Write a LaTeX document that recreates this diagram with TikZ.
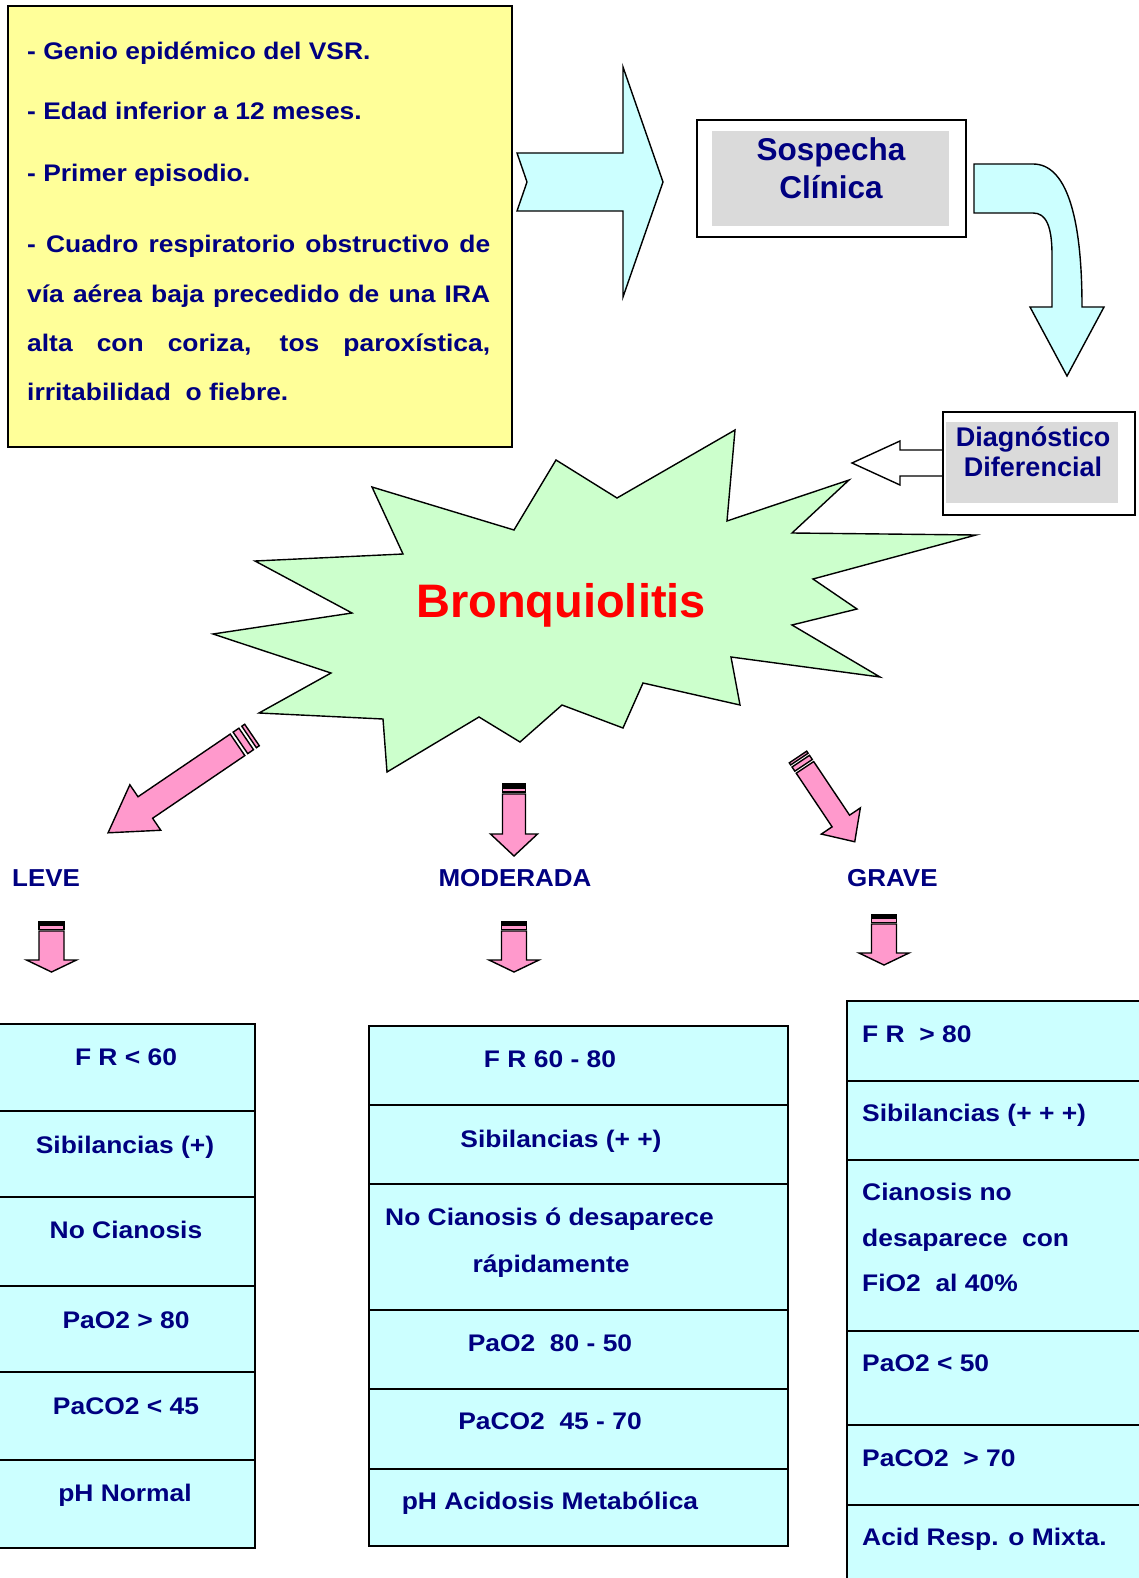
\documentclass[tikz,border=0pt]{standalone}
\usepackage{fontspec}
\setmainfont{Liberation Sans}
\newfontfamily\wideF{Liberation Sans}[FakeStretch=1.1]
\newfontfamily\midF{Liberation Sans}[FakeStretch=1.06]
\definecolor{cyanfill}{HTML}{CCFFFF}
\definecolor{yellowfill}{HTML}{FFFF99}
\definecolor{greenfill}{HTML}{CCFFCC}
\definecolor{pinkfill}{HTML}{FF99CC}
\definecolor{greyfill}{HTML}{DADADA}
\definecolor{navytext}{HTML}{000080}
\tikzset{
  tx/.style={inner sep=0pt, text=navytext, font=\wideF\bfseries\fontsize{24}{28}\selectfont},
  lbl/.style={inner sep=0pt, text=navytext, font=\midF\bfseries\fontsize{24.5}{28}\selectfont},
  hd/.style={inner sep=0pt, text=navytext, font=\bfseries\fontsize{31.5}{37}\selectfont},
  dg/.style={inner sep=0pt, text=navytext, font=\bfseries\fontsize{27}{31}\selectfont},
  boxline/.style={draw=black, line width=2pt, line join=miter},
  cellline/.style={draw=black, line width=2pt},
  outline/.style={draw=black, line width=1.4pt, line join=miter},
  pinkline/.style={draw=black, line width=1.4pt, fill=pinkfill, line join=miter},
  pics/parrow/.style n args={5}{code={
    \path[pinkline] (0,-#2) rectangle (#5,#2);
    \path[pinkline] (2*#5,-#2) rectangle (4*#5,#2);
    \path[pinkline] (5*#5,-#2) -- (#1-#4,-#2) -- (#1-#4,-#3) -- (#1,0) -- (#1-#4,#3) -- (#1-#4,#2) -- (5*#5,#2) -- cycle;
  }}
}
\begin{document}
\begin{tikzpicture}[x=1pt,y=-1pt]
\useasboundingbox (0,0) rectangle (1139,1578);
\fill[white] (0,0) rectangle (1139,1578);

% ---------- yellow box ----------
\path[boxline, fill=yellowfill] (8,6) rectangle (512,447);
\node[tx, anchor=base west] (y1) at (27,59.3) {- Genio epidémico del VSR.};
\node[tx, anchor=base west] (y2) at (27,120) {- Edad inferior a 12 meses.};
\node[tx, anchor=base west] (y3) at (27,181.7) {- Primer episodio.};
\node[tx, anchor=base west] (y4) at (27,253) {\makebox[463pt][s]{- Cuadro respiratorio obstructivo de}};
\node[tx, anchor=base west] (y5) at (27,302) {\makebox[463pt][s]{vía aérea baja precedido de una IRA}};
\node[tx, anchor=base west] (y6) at (27,351) {\makebox[463pt][s]{alta con coriza, tos paroxística,}};
\node[tx, anchor=base west] (y7) at (27,400) {irritabilidad\ \ o fiebre.};

% ---------- notched block arrow ----------
\path[outline, fill=cyanfill] (517,153) -- (623,153) -- (623,67) -- (663,182) -- (623,297) -- (623,211) -- (517,211) -- (527,182) -- cycle;

% ---------- Sospecha clinica ----------
\path[draw=black, line width=1.8pt, fill=white] (697,120) rectangle (966,237);
\fill[greyfill] (712,131) rectangle (949,226);
\node[hd, anchor=base] (s1) at (831,161) {Sospecha};
\node[hd, anchor=base] (s2) at (831,198.3) {Clínica};

% ---------- curved arrow ----------
\path[outline, fill=cyanfill] (974,164) -- (1033,164) .. controls (1066,164) and (1082,215) .. (1082,307)
  -- (1104,307) -- (1067,376) -- (1030,307) -- (1052,307) -- (1052,255)
  .. controls (1052,226) and (1046,213) .. (1033,213) -- (974,213) -- cycle;

% ---------- Diagnostico diferencial ----------
\path[outline, fill=white] (944,450) -- (900,450) -- (900,441) -- (852,463) -- (900,485) -- (900,476) -- (944,476) -- cycle;
\path[draw=black, line width=1.8pt, fill=white] (943,412) rectangle (1135,515);
\fill[greyfill] (946,422) rectangle (1118,503);
\node[dg, anchor=base] (d1) at (1033,446.7) {Diagnóstico};
\node[dg, anchor=base] (d2) at (1033,476.7) {Diferencial};

% ---------- star ----------
\path[outline, fill=greenfill] (372,487) -- (514,530) -- (556,460) -- (617,498) -- (735,430) -- (727,521)
  -- (849,480) -- (792,533) -- (976,535) -- (813,579) -- (857,609) -- (792,625) -- (880,677)
  -- (731,657) -- (740,705) -- (643,683) -- (623,728) -- (562,705) -- (520,742) -- (479,717)
  -- (387,772) -- (383,719) -- (259,713) -- (331,673) -- (213,634) -- (352,613) -- (255,561)
  -- (403,554) -- cycle;
\node[inner sep=0pt, text=red, font=\bfseries\fontsize{47}{52}\selectfont, anchor=base] (bronq) at (561,617) {Bronquiolitis};

% ---------- pink arrows ----------
\pic[rotate=214.2] at (252,735) {parrow={174}{13}{27.5}{45}{3.5}};
\pic[rotate=-90] at (514,784) {parrow={72}{11.5}{23.5}{22}{2}};
\pic[rotate=-56.2] at (798,757) {parrow={102}{10.5}{23.5}{25}{2.5}};

\node[lbl, anchor=base west] (leve) at (12,886) {LEVE};
\node[lbl, anchor=base] (mod) at (515,886) {MODERADA};
\node[lbl, anchor=base west] (grave) at (847,886) {GRAVE};

\pic[rotate=-90] at (51.5,922) {parrow={50}{12.5}{25}{12}{1.8}};
\pic[rotate=-90] at (514,922) {parrow={50}{12.5}{25}{12}{1.8}};
\pic[rotate=-90] at (884,915) {parrow={50}{12.5}{25}{12}{1.8}};

% ---------- left table ----------
\path[cellline, fill=cyanfill] (-5,1024) rectangle (255,1548);
\foreach \yy in {1111,1197,1286,1372,1460} \draw[cellline] (-5,\yy) -- (255,\yy);
\node[tx, anchor=base] (l1) at (126,1065) {F R < 60};
\node[tx, anchor=base] (l2) at (125,1153) {Sibilancias (+)};
\node[tx, anchor=base] (l3) at (126,1238) {No Cianosis};
\node[tx, anchor=base] (l4) at (126,1328) {PaO2 > 80};
\node[tx, anchor=base] (l5) at (126,1414) {PaCO2 < 45};
\node[tx, anchor=base] (l6) at (125,1501) {pH Normal};

% ---------- middle table ----------
\path[cellline, fill=cyanfill] (369,1026) rectangle (788,1546);
\foreach \yy in {1105,1184,1310,1389,1469} \draw[cellline] (369,\yy) -- (788,\yy);
\node[tx, anchor=base] (m1) at (550,1067) {F R 60 - 80};
\node[tx, anchor=base] (m2) at (561,1147) {Sibilancias (+ +)};
\node[tx, anchor=base west] (m3) at (385,1225) {No Cianosis ó desaparece};
\node[tx, anchor=base] (m4) at (551,1272) {rápidamente};
\node[tx, anchor=base] (m5) at (550,1351) {PaO2\ \ 80 - 50};
\node[tx, anchor=base] (m6) at (550,1429) {PaCO2\ \ 45 - 70};
\node[tx, anchor=base] (m7) at (550,1509) {pH Acidosis Metabólica};

% ---------- right table ----------
\path[cellline, fill=cyanfill] (847,1001) rectangle (1150,1590);
\foreach \yy in {1081,1160,1331,1425,1505} \draw[cellline] (847,\yy) -- (1150,\yy);
\node[tx, anchor=base west] (r1) at (862,1042.7) {F R\ \ > 80};
\node[tx, anchor=base west] (r2) at (862,1121.7) {Sibilancias (+ + +)};
\node[tx, anchor=base west] (r3) at (862,1200) {Cianosis no};
\node[tx, anchor=base west] (r4) at (862,1246.7) {desaparece\ \ con};
\node[tx, anchor=base west] (r5) at (862,1291.7) {FiO2\ \ al 40\%};
\node[tx, anchor=base west] (r6) at (862,1371) {PaO2 < 50};
\node[tx, anchor=base west] (r7) at (862,1466) {PaCO2\ \ > 70};
\node[tx, anchor=base west] (r8) at (862,1545) {Acid Resp. o Mixta.};
\end{tikzpicture}
\end{document}
